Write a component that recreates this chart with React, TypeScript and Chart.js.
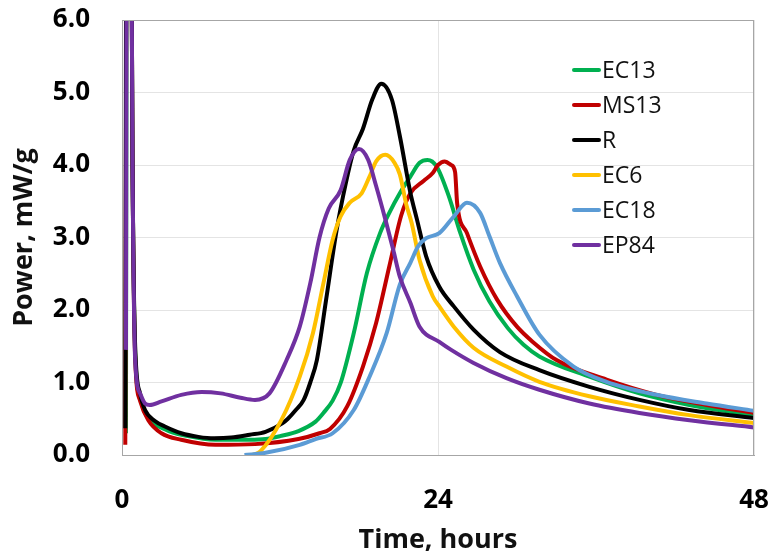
import React, { useEffect, useRef } from "react";
import { Chart, registerables } from "chart.js";

Chart.register(...registerables);

const seriesNames = ["EC13", "MS13", "R", "EC6", "EC18", "EP84"];
const seriesColors = ["#00B050", "#C00000", "#000000", "#FFC000", "#5B9BD5", "#7030A0"];

const xTicks = [0, 24, 48];
const yTicks = [0, 1, 2, 3, 4, 5, 6];

const ec13Hours = [0.3, 0.38, 0.65, 0.8, 1.0, 1.37, 1.75, 3.3, 5, 7.1, 9.7, 10.9, 12, 13.4, 14.7, 15.3, 16.0, 16.6, 17.6, 18.6, 19.6, 20.3, 21.1, 21.9, 22.6, 23.2, 23.9, 24.8, 25.7, 26.7, 27.9, 29.3, 30.5, 31.7, 35.5, 39.3, 43.1, 48];
const ec13Power = [0.3, 9, 9, 4, 1.4, 0.8, 0.58, 0.35, 0.26, 0.21, 0.21, 0.22, 0.26, 0.33, 0.46, 0.58, 0.75, 0.99, 1.68, 2.51, 3.06, 3.34, 3.61, 3.84, 4.03, 4.07, 3.98, 3.58, 3.06, 2.56, 2.12, 1.75, 1.52, 1.36, 1.08, 0.85, 0.69, 0.55];

const ms13Hours = [0.25, 0.38, 0.65, 0.8, 1.0, 1.37, 2.0, 3, 4.5, 7.1, 10.1, 13.4, 15.0, 15.8, 17.1, 18.3, 19.3, 20.3, 21.2, 21.9, 22.9, 23.6, 24.0, 24.5, 25.0, 25.3, 25.45, 26.2, 27.2, 28.5, 30.0, 31.2, 33.0, 36.8, 40.6, 44.4, 48];
const ms13Power = [0.14, 9, 9, 4, 1.35, 0.75, 0.48, 0.3, 0.21, 0.14, 0.15, 0.22, 0.3, 0.36, 0.67, 1.22, 1.82, 2.6, 3.3, 3.61, 3.78, 3.89, 4.0, 4.05, 4.0, 3.9, 3.48, 3.06, 2.6, 2.14, 1.77, 1.56, 1.31, 1.04, 0.83, 0.69, 0.58];

const rHours = [0.25, 0.35, 0.65, 0.8, 1.0, 1.37, 1.75, 2.5, 3.3, 4.5, 5.8, 7, 8.3, 9.7, 10.9, 12.2, 12.6, 13.2, 13.8, 14.3, 14.8, 15.5, 16.3, 17.0, 17.6, 18.3, 19.0, 19.7, 20.5, 21.1, 21.9, 22.4, 23.1, 24.1, 25.2, 26.7, 28.7, 31.7, 35.5, 39.3, 43.1, 48];
const rPower = [0.37, 9, 9, 4, 1.5, 0.85, 0.62, 0.47, 0.39, 0.3, 0.25, 0.23, 0.24, 0.28, 0.32, 0.44, 0.5, 0.62, 0.76, 1.0, 1.31, 2.14, 3.1, 3.75, 4.2, 4.5, 4.9, 5.12, 4.9, 4.4, 3.62, 3.25, 2.74, 2.32, 2.05, 1.73, 1.42, 1.17, 0.94, 0.76, 0.62, 0.51];

const ec6Hours = [9.9, 10.5, 12.1, 13.5, 14.5, 15.3, 16.0, 16.6, 17.3, 18.2, 18.8, 19.3, 20.0, 20.7, 21.1, 21.6, 22.0, 22.6, 23.6, 24.1, 25.2, 26.7, 29.2, 31.7, 35.5, 39.3, 43.1, 48];
const ec6Power = [0, 0.05, 0.48, 1.08, 1.68, 2.37, 2.97, 3.29, 3.48, 3.61, 3.84, 4.05, 4.14, 4.03, 3.87, 3.45, 3.2, 2.69, 2.19, 2.05, 1.77, 1.48, 1.22, 1.01, 0.81, 0.67, 0.55, 0.44];

const ec18Hours = [9.3, 10.9, 13.5, 14.7, 16.0, 17.6, 18.8, 20.1, 21.1, 21.9, 22.5, 23.1, 24.1, 25.2, 26.2, 27.2, 27.9, 28.7, 30.0, 31.7, 34.3, 36.8, 40.6, 44.4, 48];
const ec18Power = [0, 0.03, 0.14, 0.22, 0.3, 0.62, 1.08, 1.68, 2.35, 2.65, 2.88, 2.99, 3.06, 3.29, 3.48, 3.34, 3.02, 2.65, 2.19, 1.66, 1.22, 1.01, 0.83, 0.71, 0.61];

const ep84Hours = [0.3, 0.38, 0.65, 0.8, 1.0, 1.37, 1.75, 2.1, 3, 4.5, 6.05, 7.5, 9, 10.1, 11.2, 12.5, 13.5, 14.3, 15.0, 15.7, 16.6, 17.3, 18.0, 18.7, 19.3, 20.0, 20.6, 21.1, 21.9, 22.6, 24.1, 25.0, 26.7, 29.2, 31.7, 35.5, 39.3, 43.1, 48];
const ep84Power = [1.45, 9, 9, 4, 1.31, 0.85, 0.71, 0.69, 0.74, 0.83, 0.87, 0.85, 0.79, 0.76, 0.85, 1.31, 1.77, 2.37, 3.0, 3.4, 3.65, 4.07, 4.22, 4.07, 3.71, 3.25, 2.83, 2.46, 2.1, 1.77, 1.56, 1.45, 1.27, 1.06, 0.9, 0.71, 0.58, 0.48, 0.38];

const seriesHours = [ec13Hours, ms13Hours, rHours, ec6Hours, ec18Hours, ep84Hours];
const seriesPower = [ec13Power, ms13Power, rPower, ec6Power, ec18Power, ep84Power];

const FONT = "'Open Sans', 'Liberation Sans', sans-serif";

const frameAndLegend = {
  id: "frameAndLegend",
  afterDatasetsDraw(chart: any) {
    const { ctx, chartArea } = chart;
    ctx.save();
    ctx.strokeStyle = "#a6a6a6";
    ctx.lineWidth = 1;
    ctx.strokeRect(chartArea.left + 0.5, chartArea.top + 0.5, chartArea.right - chartArea.left - 1, chartArea.bottom - chartArea.top);
    // legend
    const lx = chartArea.left + 452;
    let ly = chartArea.top + 50;
    ctx.font = `23px ${FONT}`;
    ctx.textBaseline = "middle";
    ctx.textAlign = "left";
    chart.data.datasets.forEach((ds: any) => {
      ctx.strokeStyle = ds.borderColor;
      ctx.lineWidth = 4;
      ctx.lineCap = "round";
      ctx.beginPath();
      ctx.moveTo(lx, ly);
      ctx.lineTo(lx + 25, ly);
      ctx.stroke();
      ctx.fillStyle = "#111";
      ctx.fillText(ds.label, lx + 28, ly + 1);
      ly += 35;
    });
    ctx.restore();
  },
};

export default function App() {
  const ref = useRef<HTMLCanvasElement>(null);
  useEffect(() => {
    const datasets = seriesNames.map((name, i) => ({
      label: name,
      data: seriesHours[i].map((h, k) => ({ x: h, y: seriesPower[i][k] })),
      borderColor: seriesColors[i],
      backgroundColor: seriesColors[i],
      borderWidth: 4,
      pointRadius: 0,
      cubicInterpolationMode: "monotone" as const,
      order: seriesNames.length - i,
      fill: false,
    }));
    const chart = new Chart(ref.current!, {
      type: "line",
      data: { datasets },
      plugins: [frameAndLegend],
      options: {
        animation: false,
        responsive: false,
        layout: { padding: { top: 20, right: 19, left: 0, bottom: 0 } },
        plugins: { legend: { display: false }, tooltip: { enabled: false } },
        scales: {
          x: {
            type: "linear",
            min: 0,
            max: 48,
            afterBuildTicks: (scale: any) => {
              scale.ticks = xTicks.map((v) => ({ value: v }));
            },
            afterFit: (scale: any) => {
              scale.height = 104;
              scale.paddingLeft = 0;
              scale.paddingRight = 0;
            },
            border: { display: true, color: "#a6a6a6" },
            grid: { color: "#e4e4e4", drawTicks: false, lineWidth: 1 },
            ticks: {
              padding: 30,
              color: "#000",
              font: { family: FONT, size: 26, weight: "bold" },
              maxRotation: 0,
            },
            title: {
              display: true,
              text: "Time, hours",
              color: "#111",
              font: { family: FONT, size: 27, weight: "bold" },
              padding: { top: 0, bottom: 2 },
            },
          },
          y: {
            type: "linear",
            min: 0,
            max: 6,
            afterBuildTicks: (scale: any) => {
              scale.ticks = yTicks.map((v) => ({ value: v }));
            },
            afterFit: (scale: any) => {
              scale.width = 122;
              scale.paddingTop = 0;
              scale.paddingBottom = 0;
            },
            border: { display: true, color: "#a6a6a6" },
            grid: { color: "#e4e4e4", drawTicks: false, lineWidth: 1 },
            ticks: {
              padding: 32,
              color: "#000",
              font: { family: FONT, size: 26, weight: "bold" },
              callback: (v: any) => Number(v).toFixed(1),
            },
            title: {
              display: true,
              text: "Power, mW/g",
              color: "#111",
              font: { family: FONT, size: 27, weight: "bold" },
              padding: { top: 8, bottom: 0 },
            },
          },
        },
      },
    });
    return () => chart.destroy();
  }, []);
  return (
    <div style={{ position: "absolute", left: 0, top: 0, width: 773, height: 559, background: "#fff" }}>
      <canvas ref={ref} width={773} height={559} />
    </div>
  );
}
